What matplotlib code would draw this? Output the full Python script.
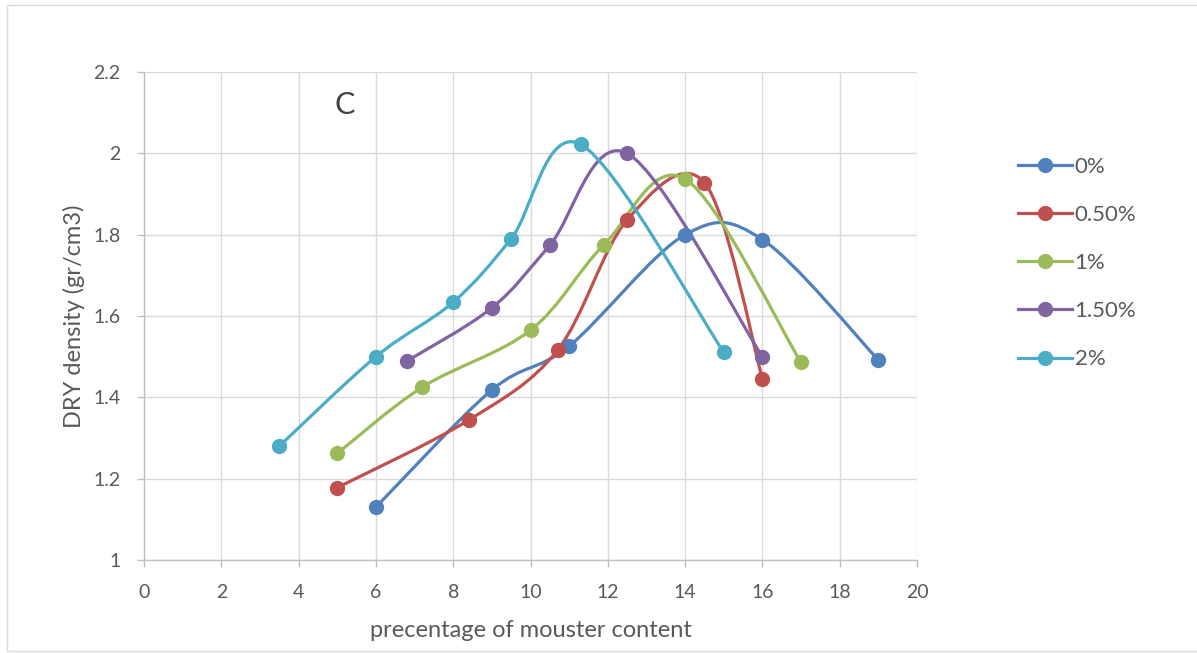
import matplotlib.pyplot as plt
import numpy as np
from matplotlib.path import Path
from matplotlib.patches import PathPatch, Rectangle
from matplotlib.lines import Line2D

plt.rcParams['font.family'] = ['Lato', 'DejaVu Sans']

# data
labels = ['0%', '0.50%', '1%', '1.50%', '2%']
colors = ['#4F81BD', '#C0504D', '#9BBB59', '#8064A2', '#4BACC6']

x_0 = [6, 9, 11, 14, 16, 19]
y_0 = [1.13, 1.418, 1.526, 1.8, 1.788, 1.492]
x_05 = [5, 8.4, 10.7, 12.5, 14.5, 16]
y_05 = [1.178, 1.344, 1.516, 1.836, 1.928, 1.446]
x_1 = [5, 7.2, 10, 11.9, 14, 17]
y_1 = [1.262, 1.425, 1.565, 1.775, 1.937, 1.486]
x_15 = [6.8, 9, 10.5, 12.5, 16]
y_15 = [1.489, 1.62, 1.774, 2.0, 1.5]
x_2 = [3.5, 6, 8, 9.5, 11.3, 15]
y_2 = [1.28, 1.5, 1.634, 1.79, 2.022, 1.511]

xs = [x_0, x_05, x_1, x_15, x_2]
ys = [y_0, y_05, y_1, y_15, y_2]

xticks = list(range(0, 21, 2))
yticks = [1, 1.2, 1.4, 1.6, 1.8, 2, 2.2]


def smooth_path(x, y):
    # bezier path like the "smoothed line" option in spreadsheet charts
    p = np.column_stack([x, y]).astype(float)
    n = len(p)
    verts = [p[0]]
    codes = [Path.MOVETO]
    for i in range(n - 1):
        p_prev = p[i - 1] if i > 0 else p[i]
        p_next = p[i + 2] if i + 2 < n else p[i + 1]
        c1 = p[i] + (p[i + 1] - p_prev) / 6
        c2 = p[i + 1] - (p_next - p[i]) / 6
        verts += [c1, c2, p[i + 1]]
        codes += [Path.CURVE4] * 3
    return Path(verts, codes)


fig = plt.figure(figsize=(11.97, 6.53), dpi=100)
ax = fig.add_axes([144 / 1197, 1 - 560 / 653, (917 - 144) / 1197, (560 - 72) / 653])

for x, y, c, lab in zip(xs, ys, colors, labels):
    ax.add_patch(PathPatch(smooth_path(x, y), facecolor='none', edgecolor=c,
                           lw=2.3, capstyle='round', zorder=3))
    ax.plot(x, y, 'o', color=c, ms=10, zorder=4, label=lab)

ax.set_xlim(0, 20)
ax.set_ylim(1, 2.2)
ax.set_xticks(xticks)
ax.set_yticks(yticks)
ax.set_yticklabels([f'{v:g}' for v in yticks])
ax.grid(True, color='#D9D9D9', lw=1)
ax.set_axisbelow(True)
for s in ['top', 'right']:
    ax.spines[s].set_visible(False)
for s in ['left', 'bottom']:
    ax.spines[s].set_color('#BFBFBF')
    ax.spines[s].set_linewidth(1)
ax.tick_params(colors='#BFBFBF', labelcolor='#595959', labelsize=14, length=5, width=1)
ax.tick_params(axis='x', pad=12)
ax.tick_params(axis='y', pad=12)

ax.set_xlabel('precentage of mouster content', fontsize=17, color='#595959', labelpad=14)
ax.set_ylabel('DRY density (gr/cm3)', fontsize=17, color='#595959', labelpad=6)

ax.text(345 / 1197, 1 - 105 / 653, 'C', transform=fig.transFigure, fontsize=22,
        color='#404040', ha='center', va='center')

handles = [Line2D([], [], color=c, lw=2.3, marker='o', ms=10) for c in colors]
fig.legend(handles, labels, loc='center left', bbox_to_anchor=(1009 / 1197, 1 - 263 / 653),
           frameon=False, fontsize=16, labelcolor='#595959', handlelength=2.45,
           handletextpad=0.1, labelspacing=1.27, borderaxespad=0)

fig.patches.append(Rectangle((7 / 1197, 1 - 651 / 653), 1.2, 646 / 653,
                             transform=fig.transFigure, fill=False,
                             edgecolor='#D9D9D9', lw=1, clip_on=False))

fig.savefig('out.png', dpi=100)
